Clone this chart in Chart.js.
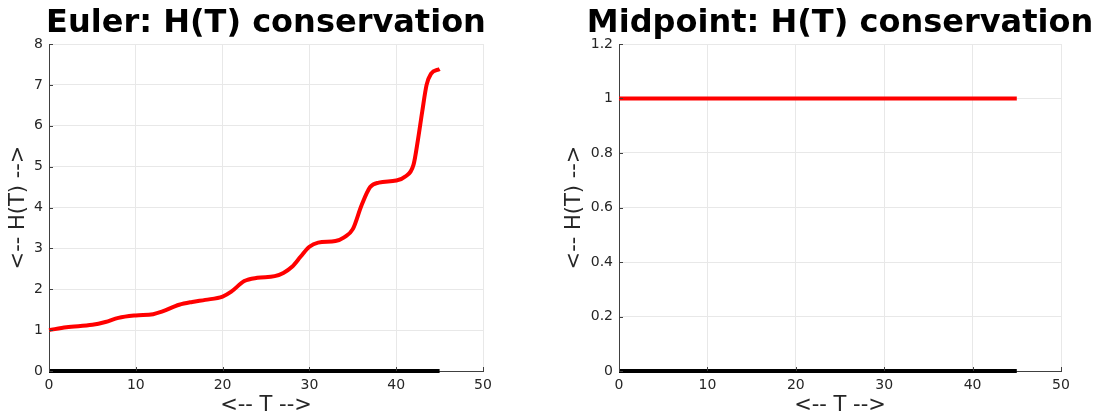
<!DOCTYPE html>
<html>
<head>
<meta charset="utf-8">
<script src="https://cdn.jsdelivr.net/npm/chart.js@4"></script>
<style>
  body { margin: 0; background: #fff; }
  .box { position: absolute; top: 0; height: 418px; }
  #left { left: 0; width: 540px; }
  #right { left: 548px; width: 549px; }
</style>
</head>
<body>
<div class="box" id="left"><canvas id="chartEuler"></canvas></div>
<div class="box" id="right"><canvas id="chartMid"></canvas></div>
<script>
// Euler: H(T) 값
const eulerT = [0, 2, 5, 6.5, 8, 10, 12, 13, 15, 16.5, 18, 20, 21, 22.5, 24, 26, 27, 28, 29, 30, 31, 33, 34, 35, 36, 37, 38, 40, 41, 42, 42.5, 43, 43.5, 44, 45];
const eulerH = [1.0, 1.07, 1.13, 1.2, 1.3, 1.36, 1.39, 1.45, 1.62, 1.69, 1.74, 1.82, 1.94, 2.2, 2.28, 2.32, 2.4, 2.55, 2.8, 3.04, 3.14, 3.18, 3.27, 3.47, 4.05, 4.5, 4.61, 4.66, 4.75, 5.05, 5.65, 6.35, 7.0, 7.27, 7.39];
// Midpoint: H(T) 값
const midT = [0, 45];
const midH = [1, 1];
// 기준선 (0)
const zeroT = [0, 45];
const zeroH = [0, 0];

const xTicks = [0, 10, 20, 30, 40, 50];
const eulerYTicks = [0, 1, 2, 3, 4, 5, 6, 7, 8];
const midYTicks = [0, 0.2, 0.4, 0.6, 0.8, 1, 1.2];

Chart.defaults.font.family = 'DejaVu Sans';

// 제목을 plot 영역 가운데에 그림
const centerTitle = {
    id: 'centerTitle',
    afterDraw(chart, args, opts){
        const c = chart.ctx;
        const area = chart.chartArea;
        c.save();
        c.font = 'bold 32px "DejaVu Sans"';
        c.fillStyle = '#000000';
        c.textAlign = 'center';
        c.textBaseline = 'alphabetic';
        c.fillText(opts.text, (area.left + area.right) / 2, 32);
        c.restore();
    }
};

// 안쪽 눈금 (MATLAB 스타일)
const innerTicks = {
    id: 'innerTicks',
    afterDatasetsDraw(chart){
        const c = chart.ctx;
        const area = chart.chartArea;
        const xs = chart.scales.x, ys = chart.scales.y;
        c.save();
        c.strokeStyle = '#404040';
        c.lineWidth = 1;
        c.beginPath();
        xs.ticks.forEach(t => {
            const px = Math.round(xs.getPixelForValue(t.value)) + 0.5;
            c.moveTo(px, area.bottom);
            c.lineTo(px, area.bottom - 4);
        });
        ys.ticks.forEach(t => {
            const py = Math.round(ys.getPixelForValue(t.value)) + 0.5;
            c.moveTo(area.left, py);
            c.lineTo(area.left + 4, py);
        });
        c.stroke();
        c.restore();
    }
};

function toPts(xs, ys){
    return xs.map((x, i) => ({x: x, y: ys[i]}));
}

function makeChart(canvasId, title, xs, ys, yMax, yTicks, yWidth, rightPad, yTitlePad){
    const ctx = document.getElementById(canvasId).getContext('2d');
    return new Chart(ctx, {
        type: 'scatter',
        data: {
            datasets: [
                {
                    data: toPts(xs, ys),
                    showLine: true,
                    borderColor: '#ff0000',
                    borderWidth: 4,
                    pointRadius: 0,
                    clip: 6,
                    cubicInterpolationMode: 'monotone'
                },
                {
                    data: toPts(zeroT, zeroH),
                    showLine: true,
                    borderColor: '#000000',
                    borderWidth: 4,
                    pointRadius: 0,
                    clip: 6
                }
            ]
        },
        options: {
            responsive: true,
            maintainAspectRatio: false,
            animation: false,
            layout: { padding: { right: rightPad, top: 44, left: 0, bottom: 0 } },
            plugins: {
                legend: { display: false },
                tooltip: { enabled: false },
                title: { display: false },
                centerTitle: { text: title }
            },
            scales: {
                x: {
                    type: 'linear',
                    min: 0,
                    max: 50,
                    afterBuildTicks: (axis) => { axis.ticks = xTicks.map(v => ({value: v})); },
                    afterFit: (axis) => { axis.height = 47; },
                    grid: { color: '#e8e8e8', drawTicks: false },
                    border: { color: '#404040', width: 1 },
                    ticks: { color: '#262626', font: { size: 14 }, padding: 6, maxRotation: 0 },
                    title: {
                        display: true,
                        text: '<-- T -->',
                        color: '#262626',
                        font: { size: 21 },
                        padding: { top: 0, bottom: 0 }
                    }
                },
                y: {
                    min: 0,
                    max: yMax,
                    afterBuildTicks: (axis) => { axis.ticks = yTicks.map(v => ({value: v})); },
                    afterFit: (axis) => { axis.width = yWidth; },
                    grid: { color: '#e8e8e8', drawTicks: false },
                    border: { color: '#404040', width: 1 },
                    ticks: {
                        color: '#262626',
                        font: { size: 14 },
                        padding: 6,
                        callback: (v) => String(Number(v.toFixed(2)))
                    },
                    title: {
                        display: true,
                        text: '<-- H(T) -->',
                        color: '#262626',
                        font: { size: 21 },
                        padding: { top: yTitlePad, bottom: 0 }
                    }
                }
            }
        },
        plugins: [centerTitle, innerTicks]
    });
}

makeChart('chartEuler', 'Euler: H(T) conservation', eulerT, eulerH, 8, eulerYTicks, 49, 57, 6);
makeChart('chartMid', 'Midpoint: H(T) conservation', midT, midH, 1.2, midYTicks, 71, 36, 14);
</script>
</body>
</html>
